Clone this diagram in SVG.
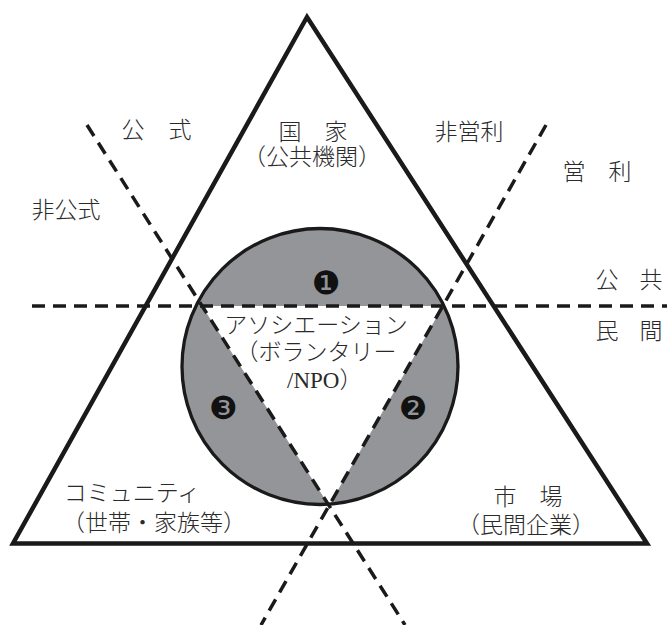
<svg xmlns="http://www.w3.org/2000/svg" width="667" height="625" viewBox="0 0 667 625">
<defs>
<style>
.lbl{font-family:"Liberation Serif","Noto Sans CJK JP",serif;font-size:23px;font-weight:300;fill:#2a2a2a;text-anchor:middle}
.num{font-family:"DejaVu Sans",sans-serif;font-size:32px;fill:#111;text-anchor:middle}
.dash{fill:none;stroke:#1a1a1a;stroke-width:3.5;stroke-dasharray:13 8}
</style>
<clipPath id="cc"><circle cx="320" cy="366.5" r="138"/></clipPath>
</defs>
<rect width="667" height="625" fill="#fff"/>
<g id="triangle">
<polygon points="307,17 13,543.5 647,543.5" fill="#fff" stroke="#1a1a1a" stroke-width="4.5" stroke-linejoin="miter"/>
</g>
<g id="association-circle">
<circle cx="320" cy="366.5" r="138" fill="#939598"/>
<polygon points="202,306 443,306 329,505.6" fill="#fff" clip-path="url(#cc)"/>
<circle cx="320" cy="366.5" r="138" fill="none" stroke="#1a1a1a" stroke-width="3.3"/>
</g>
<g id="connectors">
<line class="dash" x1="32" y1="306" x2="667" y2="306"/>
<line class="dash" x1="87" y1="125" x2="405" y2="625"/>
<line class="dash" x1="546" y1="125" x2="261" y2="625"/>
</g>
<g id="axis-labels">
<text class="lbl" x="133 180" y="138">公式</text>
<text class="lbl" x="66" y="218">非公式</text>
<text class="lbl" x="469" y="140">非営利</text>
<text class="lbl" x="574 620" y="180">営利</text>
<text class="lbl" x="607 651" y="288">公共</text>
<text class="lbl" x="607 651" y="339">民間</text>
</g>
<g id="state">
<text class="lbl" x="313" y="140">国　家</text>
<text class="lbl" x="312" y="165">（公共機関）</text>
</g>
<g id="association">
<text class="lbl" x="316" y="333">アソシエーション</text>
<text class="lbl" x="316" y="360">（ボランタリー</text>
<text class="lbl" x="287" y="388" style="text-anchor:start">/NPO）</text>
</g>
<g id="community">
<text class="lbl" x="132" y="501">コミュニティ</text>
<text class="lbl" x="154" y="531">（世帯・家族等）</text>
</g>
<g id="market">
<text class="lbl" x="528" y="505">市　場</text>
<text class="lbl" x="526" y="533">（民間企業）</text>
</g>
<g id="numbers">
<text class="num" x="326" y="294">❶</text>
<text class="num" x="413" y="419">❷</text>
<text class="num" x="223" y="419">❸</text>
</g>
</svg>
